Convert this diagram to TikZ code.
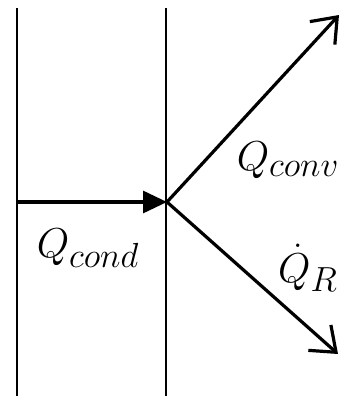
\documentclass[tikz,border=0pt]{standalone}
\usetikzlibrary{arrows.meta}
\begin{document}
\begin{tikzpicture}[x=1pt,y=-1pt,
  wall/.style={line width=2.6pt,black},
  flow/.style={line width=3.2pt,black},
  lab/.style={font=\Huge, scale=1.68, inner sep=0pt}]
\useasboundingbox (0,0) rectangle (342,396);
\coordinate (w1t) at (17,8);
\coordinate (w1b) at (17,396);
\coordinate (w2t) at (166,8);
\coordinate (w2b) at (166,396);
\coordinate (s) at (17,202);
\coordinate (j) at (167,202);
\coordinate (up) at (339,15);
\coordinate (dn) at (338,354);
\draw[wall] (w1t) -- (w1b);
\draw[wall] (w2t) -- (w2b);
\draw[flow,-{Triangle[length=24pt,width=22pt]}] (s) -- (j);
\draw[flow,-{Straight Barb[length=22pt,width=34pt,line width=3.2pt]}] (j) -- (up);
\draw[flow,-{Straight Barb[length=22pt,width=34pt,line width=3.2pt]}] (j) -- (dn);
\node[lab] (qconv) at (288,160) {$Q_{conv}$};
\node[lab] (qcond) at (88,248) {$Q_{cond}$};
\node[lab] (qr) at (308,268) {$\dot{Q}_R$};
\end{tikzpicture}
\end{document}
